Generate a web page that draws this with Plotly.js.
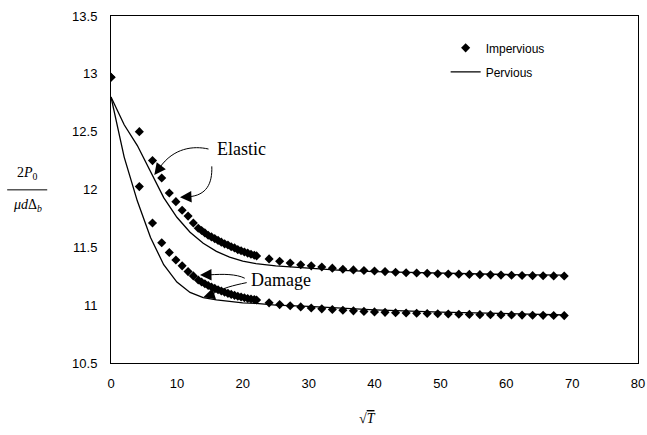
<!DOCTYPE html>
<html>
<head>
<meta charset="utf-8">
<script src="https://cdn.plot.ly/plotly-3.0.1.min.js"></script>
<style>html,body{margin:0;padding:0;background:#fff;}#chart{width:647px;height:435px;}</style>
</head>
<body>
<div id="chart"></div>
<script>
// Impervious (diamonds) - elastic (upper) series
var impElasticX = [0, 4.3, 6.3, 7.7, 8.85, 9.85, 10.8, 11.7, 12.5, 13.25, 13.75, 14.25, 14.75, 15.25, 15.75, 16.25, 16.75, 17.25, 17.75, 18.25, 18.75, 19.25, 19.75, 20.25, 20.75, 21.25, 21.75, 22.1,
  24.0, 25.6, 27.2, 28.8, 30.4, 32.0, 33.6, 35.2, 36.8, 38.4, 40.0, 41.6, 43.2, 44.8, 46.4, 48.0, 49.6, 51.2, 52.8, 54.4, 56.0, 57.6, 59.2, 60.8, 62.4, 64.0, 65.6, 67.2, 68.8];
var impElasticY = [12.97, 12.50, 12.25, 12.10, 11.97, 11.895, 11.82, 11.77, 11.71, 11.665, 11.645, 11.625, 11.605, 11.59, 11.575, 11.56, 11.545, 11.53, 11.52, 11.505, 11.495, 11.48, 11.47, 11.46, 11.45, 11.44, 11.432, 11.426,
  11.40, 11.38, 11.365, 11.35, 11.34, 11.33, 11.32, 11.31, 11.305, 11.30, 11.295, 11.29, 11.285, 11.28, 11.278, 11.275, 11.272, 11.27, 11.268, 11.266, 11.264, 11.262, 11.26, 11.258, 11.256, 11.255, 11.254, 11.253, 11.252];
// Impervious (diamonds) - damage (lower) series
var impDamageX = [0, 4.3, 6.3, 7.7, 8.85, 9.85, 10.8, 11.7, 12.5, 13.25, 13.75, 14.25, 14.75, 15.25, 15.75, 16.25, 16.75, 17.25, 17.75, 18.25, 18.75, 19.25, 19.75, 20.25, 20.75, 21.25, 21.75, 22.1,
  24.0, 25.6, 27.2, 28.8, 30.4, 32.0, 33.6, 35.2, 36.8, 38.4, 40.0, 41.6, 43.2, 44.8, 46.4, 48.0, 49.6, 51.2, 52.8, 54.4, 56.0, 57.6, 59.2, 60.8, 62.4, 64.0, 65.6, 67.2, 68.8];
var impDamageY = [12.97, 12.025, 11.71, 11.54, 11.455, 11.39, 11.34, 11.29, 11.253, 11.218, 11.20, 11.185, 11.17, 11.157, 11.145, 11.133, 11.122, 11.112, 11.102, 11.093, 11.085, 11.077, 11.07, 11.064, 11.058, 11.053, 11.048, 11.045,
  11.02, 11.005, 10.995, 10.985, 10.975, 10.968, 10.962, 10.956, 10.951, 10.946, 10.942, 10.938, 10.935, 10.932, 10.93, 10.928, 10.926, 10.924, 10.922, 10.92, 10.918, 10.917, 10.916, 10.915, 10.914, 10.913, 10.912, 10.911, 10.91];
// Pervious (lines)
var perX = [0, 2, 4, 6, 8, 10, 12, 14, 16, 18, 20, 22, 25, 30, 35, 40, 50, 60, 69];
var perElasticY = [12.80, 12.56, 12.38, 12.16, 11.93, 11.76, 11.63, 11.535, 11.465, 11.415, 11.38, 11.36, 11.34, 11.32, 11.30, 11.29, 11.275, 11.265, 11.26];
var perDamageY = [12.80, 12.28, 11.90, 11.585, 11.35, 11.20, 11.11, 11.065, 11.045, 11.03, 11.02, 11.015, 11.0, 10.99, 10.975, 10.96, 10.94, 10.925, 10.915];

var xTicks = [0, 10, 20, 30, 40, 50, 60, 70, 80];
var yTicks = [10.5, 11, 11.5, 12, 12.5, 13, 13.5];

var serif = '"Liberation Serif", "Times New Roman", serif';
var sans = '"Liberation Sans", Arial, sans-serif';

var traces = [
  {x: perX, y: perElasticY, mode: 'lines', name: 'Pervious', legendgroup: 'b', showlegend: true,
   line: {color: '#000', width: 1.3}, legendrank: 2},
  {x: perX, y: perDamageY, mode: 'lines', name: 'Pervious', legendgroup: 'b', showlegend: false,
   line: {color: '#000', width: 1.3}},
  {x: impElasticX, y: impElasticY, mode: 'markers', name: 'Impervious', legendgroup: 'a', showlegend: true,
   marker: {symbol: 'diamond', size: 7, color: '#000'}, legendrank: 1},
  {x: impDamageX, y: impDamageY, mode: 'markers', name: 'Impervious', legendgroup: 'a', showlegend: false,
   marker: {symbol: 'diamond', size: 7, color: '#000'}}
];

function arrowHead(x, y, ax, ay) {
  return {x: x, y: y, ax: ax, ay: ay, xref: 'x', yref: 'y', axref: 'x', ayref: 'y', text: '',
          showarrow: true, arrowhead: 2, arrowsize: 2.3, arrowwidth: 1, arrowcolor: '#000'};
}

var layout = {
  width: 647, height: 435,
  margin: {l: 111, r: 9, t: 16, b: 72},
  paper_bgcolor: '#fff', plot_bgcolor: '#fff',
  font: {family: sans, size: 13, color: '#000'},
  showlegend: true,
  legend: {x: 0.635, y: 0.95, xanchor: 'left', yanchor: 'top', bgcolor: 'rgba(0,0,0,0)',
           font: {family: sans, size: 12, color: '#000'}, traceorder: 'grouped', tracegroupgap: 5},
  xaxis: {range: [0, 80], tickvals: xTicks, showgrid: false, zeroline: false, showline: true, mirror: true,
          linecolor: '#000', linewidth: 1, ticks: '', ticklabelstandoff: 8,
          tickfont: {family: sans, size: 13, color: '#000'}},
  yaxis: {range: [10.5, 13.5], tickvals: yTicks, showgrid: false, zeroline: false, showline: true, mirror: true,
          linecolor: '#000', linewidth: 1, ticks: '', ticklabelstandoff: 10,
          tickfont: {family: sans, size: 13, color: '#000'}},
  shapes: [
    // fraction bar for y-axis title
    {type: 'line', xref: 'paper', yref: 'paper', x0: -0.197, x1: -0.121, y0: 0.499, y1: 0.499, line: {color: '#000', width: 1}},
    // Elastic curved arrows
    {type: 'path', xref: 'x', yref: 'y', path: 'M 14.8,12.35 C 12.5,12.38 9.5,12.36 7.4,12.19', line: {color: '#000', width: 1}},
    {type: 'path', xref: 'x', yref: 'y', path: 'M 15.3,12.20 C 15.4,12.05 14.5,11.95 11.8,11.937', line: {color: '#000', width: 1}},
    // Damage curved arrows
    {type: 'path', xref: 'x', yref: 'y', path: 'M 20.3,11.233 C 19.0,11.27 17.0,11.27 14.9,11.262', line: {color: '#000', width: 1}},
    {type: 'path', xref: 'x', yref: 'y', path: 'M 20.6,11.195 C 18.5,11.17 17.0,11.15 15.2,11.09', line: {color: '#000', width: 1}}
  ],
  annotations: [
    {xref: 'paper', yref: 'paper', x: -0.159, y: 0.515, xanchor: 'center', yanchor: 'bottom', showarrow: false,
     text: '2<i>P</i><sub>0</sub>', font: {family: serif, size: 14, color: '#000'}},
    {xref: 'paper', yref: 'paper', x: -0.159, y: 0.485, xanchor: 'center', yanchor: 'top', showarrow: false,
     text: '<i>μd</i>Δ<sub><i>b</i></sub>', font: {family: serif, size: 14, color: '#000'}},
    {xref: 'paper', yref: 'paper', x: 0.487, y: -0.16, xanchor: 'center', yanchor: 'middle', showarrow: false,
     text: '√<span style="text-decoration:overline"><i>T</i></span>', font: {family: serif, size: 14, color: '#000'}},
    {xref: 'x', yref: 'y', x: 15.8, y: 12.35, xanchor: 'left', yanchor: 'middle', showarrow: false,
     text: 'Elastic', font: {family: serif, size: 18, color: '#000'}},
    {xref: 'x', yref: 'y', x: 21.0, y: 11.22, xanchor: 'left', yanchor: 'middle', showarrow: false,
     text: 'Damage', font: {family: serif, size: 18, color: '#000'}},
    arrowHead(6.57, 12.126, 7.5, 12.195),
    arrowHead(10.47, 11.933, 11.9, 11.937),
    arrowHead(13.51, 11.261, 15.0, 11.262),
    arrowHead(14.01, 11.069, 15.3, 11.092)
  ]
};

Plotly.newPlot('chart', traces, layout, {displayModeBar: false, staticPlot: true});
</script>
</body>
</html>
